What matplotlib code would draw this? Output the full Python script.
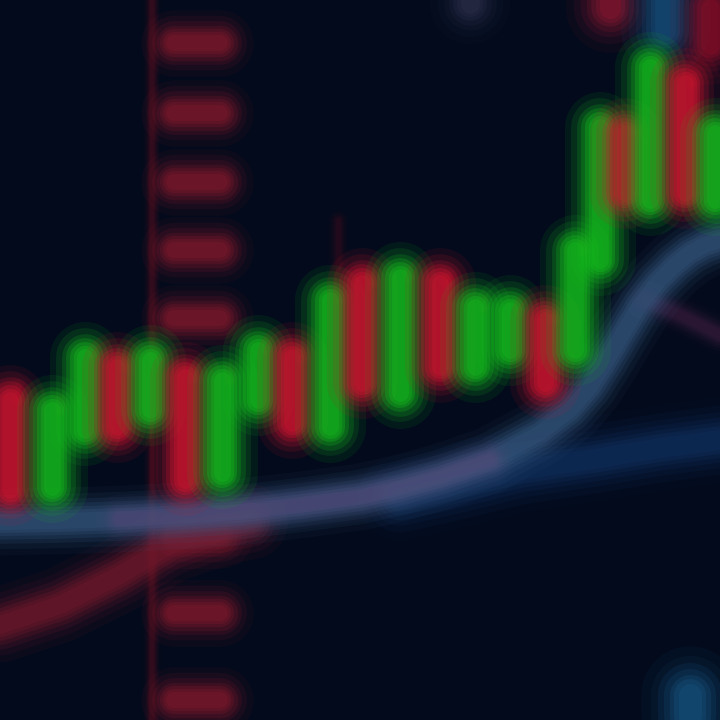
import matplotlib.pyplot as plt
import numpy as np

# candles (time, open, close, high, low) - prices
times = [10, 52, 85, 117, 150, 185, 222, 258, 292, 330, 362, 400, 440, 475, 510, 545, 575, 600, 625, 650, 685, 715]
opens = [320, 233, 290, 353, 310, 343, 247, 320, 363, 293, 437, 327, 437, 353, 370, 400, 370, 460, 587, 520, 637, 520]
closes = [230, 310, 363, 293, 360, 240, 340, 370, 297, 420, 337, 443, 353, 413, 410, 337, 470, 593, 527, 653, 527, 587]
highs = [335, 320, 372, 362, 370, 350, 350, 378, 370, 500, 445, 452, 445, 420, 418, 405, 478, 600, 595, 662, 645, 595]
lows = [220, 225, 282, 285, 300, 232, 238, 312, 290, 285, 330, 320, 345, 345, 365, 330, 362, 452, 520, 512, 520, 512]

# moving average line
ma_t = [0, 60, 120, 180, 240, 300, 360, 400, 440, 490, 540, 570, 590, 607, 623, 640, 657, 675, 690, 705, 720]
ma_v = [198, 199, 201, 204, 208, 215, 223, 232, 243, 260, 287, 310, 333, 360, 387, 415, 437, 455, 467, 475, 480]

# slower line, lower right
slow_t = [400, 450, 520, 600, 660, 720]
slow_v = [222, 233, 250, 262, 272, 280]

# red curve bottom left
red_t = [0, 60, 120, 170, 220, 250]
red_v = [95, 115, 145, 175, 192, 198]

# faint purple line right
purple_t = [645, 680, 720]
purple_v = [420, 405, 385]

# dashed marker column
dash_levels = [677, 607, 538, 470, 402, 185, 107, 20]

bg = "#020a1b"
green = "#14bc1c"
red = "#d0152f"

fig = plt.figure(figsize=(7.2, 7.2), dpi=100, facecolor=bg)
ax = fig.add_axes([0, 0, 1, 1])
ax.set_facecolor(bg)
ax.set_xlim(0, 720)
ax.set_ylim(0, 720)
ax.axis("off")

# soft blur made of stacked translucent strokes
layers = [(3.2, 0.05), (2.6, 0.07), (2.1, 0.10), (1.7, 0.13), (1.35, 0.16),
          (1.05, 0.18), (0.75, 0.18)]


def glow(x, y, color, lw, z=2, scale=1.0):
    for k, a in layers:
        ax.plot(x, y, color=color, lw=lw * k, alpha=min(1, a * scale),
                solid_capstyle="round", zorder=z)


# marker column
glow([152, 152], [-20, 740], "#4a1020", 4, z=1, scale=1.2)
for lv in dash_levels:
    glow([174, 220], [lv, lv], "#8c1a2e", 15, z=1, scale=1.5)

# lines
glow(red_t, red_v, "#7c1a2e", 17, z=1, scale=1.5)
glow(slow_t, slow_v, "#123566", 19, z=1, scale=1.3)
glow(purple_t, purple_v, "#3c1e40", 9, z=1, scale=1.2)
glow(ma_t, ma_v, "#36587f", 15, z=3, scale=1.6)
mid = [i for i, t in enumerate(ma_t) if 120 <= t <= 490]
glow([ma_t[i] for i in mid], [ma_v[i] for i in mid], "#5c4c7c", 11, z=3, scale=0.9)

# candles
for t, o, c, h, l in zip(times, opens, closes, highs, lows):
    col = green if c >= o else red
    glow([t + 8, t + 8], [max(o, c), h], "#5a1525", 5, z=3, scale=0.5)
    glow([t, t], [o, c], col, 16, z=4, scale=1.9)

# marks cut off at the top and bottom edges
glow([610, 610], [712, 720], "#a01a35", 20, z=2, scale=1.3)
glow([665, 665], [690, 720], "#1a5a8a", 20, z=2, scale=1.3)
glow([710, 710], [675, 712], "#a0102a", 18, z=2, scale=1.3)
glow([470, 470], [716, 722], "#3a3a5a", 18, z=2)
glow([690, 690], [5, 25], "#1a6090", 22, z=2, scale=1.3)

fig.savefig("out.png", dpi=100, facecolor=bg)
